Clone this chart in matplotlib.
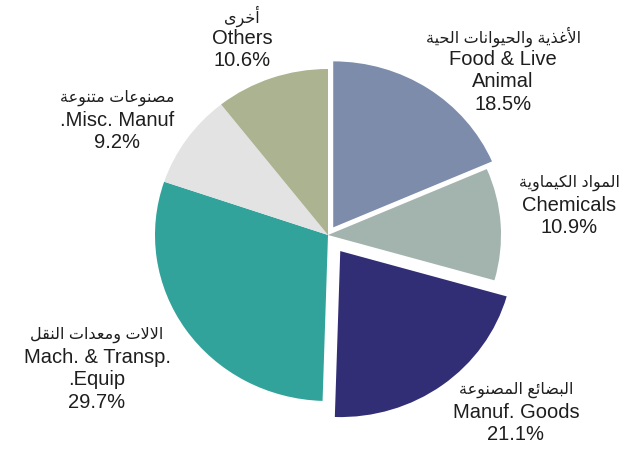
import matplotlib
matplotlib.use("Agg")
import matplotlib.pyplot as plt

# ---- data ----
categories_en = ["Food & Live\nAnimal", "Chemicals", "Manuf. Goods",
                 "Mach. & Transp.\n.Equip", ".Misc. Manuf", "Others"]
categories_ar = ["الأغذية والحيوانات الحية", "المواد الكيماوية", "البضائع المصنوعة",
                 "الالات ومعدات النقل", "مصنوعات متنوعة", "أخرى"]
shares = [18.5, 10.9, 21.1, 29.7, 9.2, 10.6]
colors = ["#7d8cab", "#a3b3ae", "#322e76", "#32a39b", "#e3e3e3", "#abb391"]
explode = [0.055, 0, 0.12, 0, 0, 0]

# ---- minimal Arabic shaping (presentation forms, visual order) ----
FORMS = {  # iso, fin, ini, med
    'ا': ('\uFE8D', '\uFE8E', None, None), 'أ': ('\uFE83', '\uFE84', None, None),
    'ب': ('\uFE8F', '\uFE90', '\uFE91', '\uFE92'), 'ة': ('\uFE93', '\uFE94', None, None),
    'ت': ('\uFE95', '\uFE96', '\uFE97', '\uFE98'), 'ح': ('\uFEA1', '\uFEA2', '\uFEA3', '\uFEA4'),
    'خ': ('\uFEA5', '\uFEA6', '\uFEA7', '\uFEA8'), 'د': ('\uFEA9', '\uFEAA', None, None),
    'ذ': ('\uFEAB', '\uFEAC', None, None), 'ر': ('\uFEAD', '\uFEAE', None, None),
    'ص': ('\uFEB9', '\uFEBA', '\uFEBB', '\uFEBC'), 'ض': ('\uFEBD', '\uFEBE', '\uFEBF', '\uFEC0'),
    'ع': ('\uFEC9', '\uFECA', '\uFECB', '\uFECC'), 'غ': ('\uFECD', '\uFECE', '\uFECF', '\uFED0'),
    'ق': ('\uFED5', '\uFED6', '\uFED7', '\uFED8'), 'ك': ('\uFED9', '\uFEDA', '\uFEDB', '\uFEDC'),
    'ل': ('\uFEDD', '\uFEDE', '\uFEDF', '\uFEE0'), 'م': ('\uFEE1', '\uFEE2', '\uFEE3', '\uFEE4'),
    'ن': ('\uFEE5', '\uFEE6', '\uFEE7', '\uFEE8'), 'و': ('\uFEED', '\uFEEE', None, None),
    'ى': ('\uFEEF', '\uFEF0', None, None), 'ي': ('\uFEF1', '\uFEF2', '\uFEF3', '\uFEF4'),
    'ئ': ('\uFE89', '\uFE8A', '\uFE8B', '\uFE8C'),
}
LAMALEF = {'ا': ('\uFEFB', '\uFEFC'), 'أ': ('\uFEF7', '\uFEF8')}


def dual(c):
    return c in FORMS and FORMS[c][2] is not None


def shape(text):
    out = []
    chars = list(text)
    i = 0
    while i < len(chars):
        c = chars[i]
        if c not in FORMS:
            out.append(c)
            i += 1
            continue
        prev = chars[i - 1] if i > 0 else ''
        jp = dual(prev)
        if c == 'ل' and i + 1 < len(chars) and chars[i + 1] in LAMALEF:
            out.append(LAMALEF[chars[i + 1]][1 if jp else 0])
            i += 2
            continue
        nxt = chars[i + 1] if i + 1 < len(chars) else ''
        jn = dual(c) and nxt in FORMS
        iso, fin, ini, med = FORMS[c]
        if jp and jn:
            out.append(med)
        elif jp:
            out.append(fin)
        elif jn:
            out.append(ini)
        else:
            out.append(iso)
        i += 1
    return ''.join(reversed(out))


W, H = 630, 452
fig = plt.figure(figsize=(W / 100, H / 100), dpi=100)
ax = fig.add_axes([0, 0, 1, 1])

cx, cy, rx, ry = 328, 236, 173, 166
ax.pie(shares, colors=colors, explode=explode, startangle=90, counterclock=False,
       radius=1, center=(0, 0), wedgeprops=dict(linewidth=0))
ax.set_aspect('auto')
ax.set_xlim(-cx / rx, (W - cx) / rx)
ax.set_ylim(-(H - cy) / ry, cy / ry)
ax.axis('off')

# label anchor positions (pixels from top-left): x center, y of first line
label_pos = [(503, 37), (569, 183), (516, 390), (97, 335), (117, 98), (242, 16)]
line_gap = 22.5
txtc = "#1e1e1e"
fam = ['Liberation Sans', 'DejaVu Sans']
for (x, y), en, ar, v in zip(label_pos, categories_en, categories_ar, shares):
    lines = [(shape(ar), 11.5)] + [(l, 14.5) for l in en.split("\n")] + [(f"{v:.1f}%", 14.5)]
    for k, (s, fs) in enumerate(lines):
        fig.text(x / W, 1 - (y + k * line_gap) / H, s, ha='center', va='center',
                 fontsize=fs, color=txtc, family=fam)

fig.savefig("out.png", dpi=100)
